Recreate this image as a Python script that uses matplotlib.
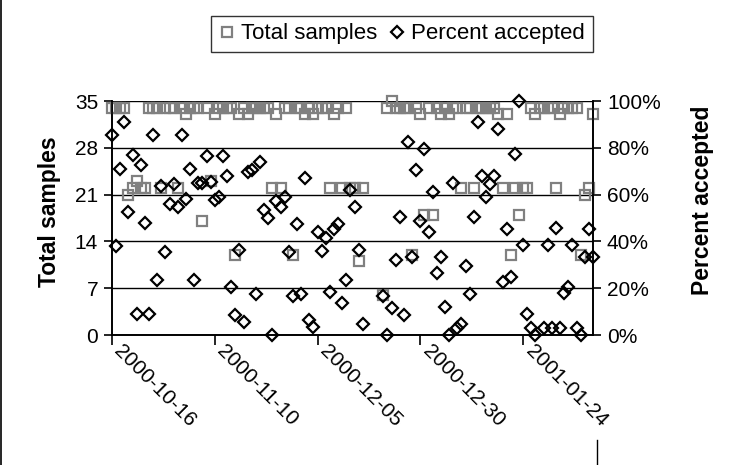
import numpy as np
import matplotlib
matplotlib.use("Agg")
import matplotlib.pyplot as plt
from matplotlib.lines import Line2D
import matplotlib.transforms as mtransforms

plt.rcParams['font.family'] = ['Liberation Sans', 'DejaVu Sans']

nan = np.nan
# day offsets from 2000-10-16
days = list(range(0, 118))

total_samples = [
    34, 34, 34, 34, 21, 22, 23, 22, 22, 34,
    34, 34, 22, 34, 34, 34, 22, 34, 33, 34,
    34, 34, 17, 34, 23, 33, 34, 34, 34, 34,
    12, 33, 34, 33, 34, 34, 34, 34, 34, 22,
    33, 22, 34, 34, 12, 34, 34, 33, 34, 33,
    34, 34, 34, 22, 33, 34, 22, 34, 22, 22,
    11, 22, nan, nan, nan, nan, 6, 34, 35, 34,
    34, 34, 34, 12, 34, 33, 18, 34, 18, 34,
    33, 34, 33, 34, 34, 22, 34, 34, 22, 34,
    34, 34, 34, 34, 33, 22, 33, 12, 22, 18,
    22, 22, 34, 33, 34, 34, 34, 34, 22, 33,
    34, 34, 34, 34, 12, 21, 22, 33,
]

percent_accepted = [
    85.5, 38, 71, 91, 52.7, 77, 9, 72.6, 47.7, 9,
    85.5, 23.5, 63.7, 35.3, 56, 64.4, 54.6, 85.5, 58, 71,
    23.5, 65, 64.8, 76.6, 65.4, 57.7, 59, 76.6, 68, 20.4,
    8.5, 36.3, 5.7, 69.8, 70.5, 17.5, 74, 53.4, 49.8, 0,
    57.3, 54.6, 59, 35.6, 16.7, 47.3, 17.5, 67, 6.4, 3.3,
    44.2, 35.7, 41.3, 18.5, 45.5, 47.3, 13.5, 23.5, 62, 54.8,
    36.3, 4.7, nan, nan, nan, nan, 16.5, 0, 11.4, 32,
    50.3, 8.5, 82.3, 33.5, 70.5, 48.6, 79.4, 44, 61.2, 26.5,
    33.2, 11.8, 0, 64.8, 2.8, 4.7, 29.5, 17.5, 50.5, 91,
    68, 58.8, 64.5, 68, 88, 22.8, 45.3, 24.6, 77.4, 100,
    38.5, 9, 2.8, 0, nan, 2.8, 38.5, 2.8, 45.6, 2.8,
    18, 20.4, 38.5, 2.8, 0, 33.5, 45.3, 33.5,
]

date_ticks = [0, 25, 50, 75, 100]
date_labels = ['2000-10-16', '2000-11-10', '2000-12-05', '2000-12-30', '2001-01-24']
left_ticks = [0, 7, 14, 21, 28, 35]
right_ticks = [0, 20, 40, 60, 80, 100]
right_labels = ['0%', '20%', '40%', '60%', '80%', '100%']

W, H = 742, 465
fig = plt.figure(figsize=(W / 100, H / 100), dpi=100)
L, R, T, B = 112, 593, 101, 335
ax = fig.add_axes([L / W, 1 - B / H, (R - L) / W, (B - T) / H])
ax2 = ax.twinx()

FS = 15

ax.plot(days, total_samples, linestyle='none', marker='s', markersize=7.5,
        markerfacecolor='none', markeredgecolor='#808080', markeredgewidth=1.6,
        clip_on=False, zorder=3, label='Total samples')
ax2.plot(days, percent_accepted, linestyle='none', marker='D', markersize=6,
         markerfacecolor='none', markeredgecolor='black', markeredgewidth=1.6,
         clip_on=False, zorder=4, label='Percent accepted')

ax.set_xlim(0, 117)
ax.set_ylim(0, 35)
ax2.set_ylim(0, 100)

ax.set_yticks(left_ticks)
ax.set_yticklabels([str(v) for v in left_ticks], fontsize=FS)
ax2.set_yticks(right_ticks)
ax2.set_yticklabels(right_labels, fontsize=FS)

ax.set_xticks(date_ticks)
ax.set_xticklabels([])
offset = mtransforms.ScaledTranslation(12 / 100, -6 / 100, fig.dpi_scale_trans)
for pos, lab in zip(date_ticks, date_labels):
    ax.text(pos, 0, lab, transform=ax.get_xaxis_transform() + offset,
            rotation=-45, ha='left', va='top', rotation_mode='anchor',
            fontsize=FS, clip_on=False)

ax.grid(axis='y', color='black', linewidth=1.0)
ax.set_axisbelow(True)

for a in (ax, ax2):
    for s in a.spines.values():
        s.set_linewidth(1.2)
        s.set_color('black')
    a.spines['top'].set_visible(False)

ax.tick_params(axis='y', direction='out', length=6, width=1.2, pad=4)
ax2.tick_params(axis='y', direction='out', length=6, width=1.2, pad=4)
ax.tick_params(axis='x', direction='out', length=7, width=1.2, pad=4)

fig.text(50 / W, 1 - 212 / H, 'Total samples', fontsize=16.5, fontweight='bold',
         rotation=90, ha='center', va='center')
fig.text(703 / W, 1 - 200 / H, 'Percent accepted', fontsize=16.5, fontweight='bold',
         rotation=90, ha='center', va='center')

handles = [
    Line2D([], [], linestyle='none', marker='s', markersize=7.5, markerfacecolor='none',
           markeredgecolor='#808080', markeredgewidth=1.6),
    Line2D([], [], linestyle='none', marker='D', markersize=6, markerfacecolor='none',
           markeredgecolor='black', markeredgewidth=1.6),
]
leg = fig.legend(handles, ['Total samples', 'Percent accepted'], ncol=2,
                 loc='center', bbox_to_anchor=(402 / W, 1 - 34 / H),
                 frameon=True, fancybox=False, fontsize=16,
                 handlelength=0.7, handletextpad=0.3, columnspacing=0.5,
                 borderpad=0.35, borderaxespad=0)
leg.get_frame().set_edgecolor('black')
leg.get_frame().set_linewidth(1.0)

# chart area border fragments
fig.add_artist(Line2D([1 / W, 1 / W], [0, 1], color='black', linewidth=1.2,
                      transform=fig.transFigure))
fig.add_artist(Line2D([597 / W, 597 / W], [0, 1 - 440 / H], color='black',
                      linewidth=1.0, transform=fig.transFigure))

fig.savefig('out.png', dpi=100)
